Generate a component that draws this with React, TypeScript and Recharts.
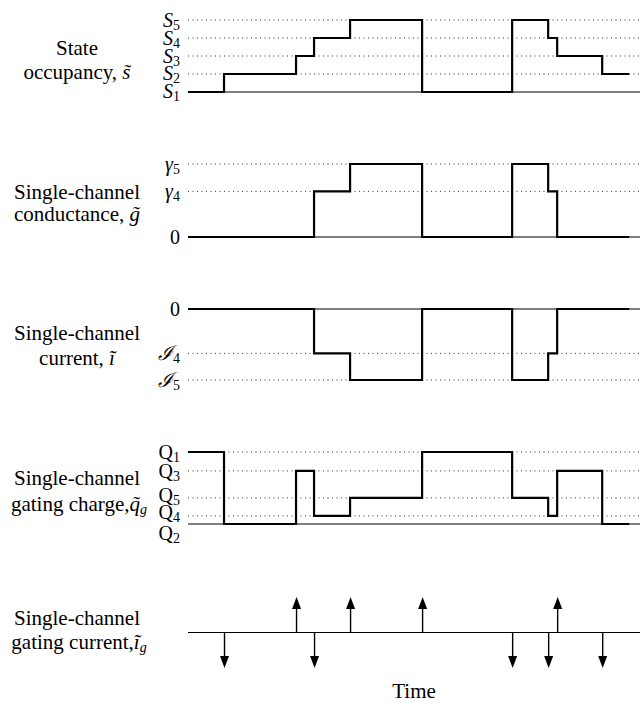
import React from 'react'
import { ComposedChart, Line, Bar, XAxis, YAxis, ReferenceLine } from 'recharts'

// transition times (arbitrary units); the last entry is the end of the record
const times = [0, 4, 12, 14, 18, 26, 36, 40, 41, 46, 49]
const occupancy = [1, 2, 3, 4, 5, 1, 5, 4, 3, 2, 2]
const conductance = [0, 0, 0, 2.5, 4, 0, 4, 2.5, 0, 0, 0]
const current = [0, 0, 0, -2.5, -4, 0, -4, -2.5, 0, 0, 0]
const gatingCharge = [4, 0, 2.95, 0.45, 1.45, 4, 1.45, 0.45, 2.95, 0, 0]

// gating current spikes: one per charge-moving transition
const gatingTimes = [4, 12, 14, 18, 26, 36, 40, 41, 46]
const gatingCurrent = [-1, 1, -1, 1, 1, -1, -1, 1, -1]

const timeDomain = [0, 50.2]

const stateTicks = [1, 2, 3, 4, 5]
const stateLabels = [['S', '1'], ['S', '2'], ['S', '3'], ['S', '4'], ['S', '5']]
const condTicks = [0, 2.5, 4]
const condLabels = [['0', ''], ['γ', '4'], ['γ', '5']]
const currTicks = [-4, -2.5, 0]
const currLabels = [['ℐ', '5'], ['ℐ', '4'], ['0', '']]
const chargeTicks = [0, 0.45, 1.45, 2.95, 4]
const chargeLabels = [['Q', '2'], ['Q', '4'], ['Q', '5'], ['Q', '3'], ['Q', '1']]

const FONT = "'Liberation Serif', 'DejaVu Serif', serif"

const toSeries = (vals: number[]) => times.map((t, i) => ({ t, v: vals[i] }))
const spikes = gatingTimes.map((t, i) => ({ t, g: gatingCurrent[i] }))

function MathTick(props: any) {
  const { x, y, payload, ticks, labels, italic, shift } = props
  const i = ticks.indexOf(payload.value)
  if (i < 0) return null
  const [main, sub] = labels[i]
  const isZero = main === '0'
  return (
    <text
      x={x}
      y={y + (shift ? shift[i] : 0)}
      textAnchor="end"
      dominantBaseline="central"
      fill="#000"
      style={{ fontFamily: FONT, fontSize: 20 }}
    >
      <tspan fontStyle={italic && !isZero ? 'italic' : 'normal'}>{main}</tspan>
      {sub && <tspan style={{ fontSize: 14 }} dy={5}>{sub}</tspan>}
    </text>
  )
}

function Arrow(props: any) {
  const { x, y, width, height, payload } = props
  const cx = x + width / 2
  const y1 = Math.min(y, y + height)
  const y2 = Math.max(y, y + height)
  const up = payload.g > 0
  const tip = up ? y1 : y2
  const base = up ? y2 : y1
  const head = 12
  const neck = up ? tip + head : tip - head
  return (
    <g>
      <line x1={cx} x2={cx} y1={base} y2={neck} stroke="#000" strokeWidth={1.4} />
      <polygon points={`${cx},${tip} ${cx - 4.5},${neck} ${cx + 4.5},${neck}`} fill="#000" />
    </g>
  )
}

interface StepPanelProps {
  top: number
  height: number
  margin: { top: number; bottom: number }
  values: number[]
  domain: number[]
  ticks: number[]
  labels: string[][]
  base: number
  italic?: boolean
  shift?: number[]
}

function StepPanel({ top, height, margin, values, domain, ticks, labels, base, italic, shift }: StepPanelProps) {
  return (
    <div style={{ position: 'absolute', left: 0, top }}>
      <ComposedChart
        width={640}
        height={height}
        data={toSeries(values)}
        margin={{ top: margin.top, bottom: margin.bottom, left: 158, right: 0 }}
      >
        <XAxis dataKey="t" type="number" domain={timeDomain} hide />
        <YAxis
          type="number"
          domain={domain}
          ticks={ticks}
          interval={0}
          width={30}
          axisLine={false}
          tickLine={false}
          tick={(p: any) => <MathTick {...p} ticks={ticks} labels={labels} italic={italic} shift={shift} />}
        />
        {ticks.filter((v) => v !== base).map((v) => (
          <ReferenceLine key={v} y={v} stroke="#333" strokeWidth={1} strokeDasharray="1 3.5" />
        ))}
        <ReferenceLine y={base} stroke="#000" strokeWidth={1.1} />
        <Line
          type="stepAfter"
          dataKey="v"
          stroke="#000"
          strokeWidth={2.2}
          dot={false}
          isAnimationActive={false}
        />
      </ComposedChart>
    </div>
  )
}

const labelStyle: React.CSSProperties = { fontFamily: FONT, fontSize: 21, fill: '#000' }
const subStyle: React.CSSProperties = { fontFamily: FONT, fontSize: 14, fontStyle: 'italic' }

export default function App() {
  return (
    <div
      style={{
        position: 'absolute',
        left: 0,
        top: 0,
        width: 640,
        height: 704,
        background: '#fff',
        fontFamily: FONT,
      }}
    >
      <svg width={640} height={704} style={{ position: 'absolute', left: 0, top: 0 }}>
        <g textAnchor="middle" dominantBaseline="central">
          <text x={77} y={48} style={labelStyle}>State</text>
          <text x={77} y={72} style={labelStyle}>occupancy, <tspan fontStyle="italic">s̃</tspan></text>
          <text x={77} y={192} style={labelStyle}>Single-channel</text>
          <text x={77} y={214} style={labelStyle}>conductance, <tspan fontStyle="italic">g̃</tspan></text>
          <text x={77} y={333} style={labelStyle}>Single-channel</text>
          <text x={77} y={358} style={labelStyle}>current, <tspan fontStyle="italic">ĩ</tspan></text>
          <text x={77} y={478} style={labelStyle}>Single-channel</text>
          <text x={79} y={504} style={labelStyle}>
            gating charge,<tspan fontStyle="italic">q̃</tspan>
            <tspan style={subStyle} dy={5}>g</tspan>
          </text>
          <text x={77} y={618} style={labelStyle}>Single-channel</text>
          <text x={79} y={642} style={labelStyle}>
            gating current,<tspan fontStyle="italic">ĩ</tspan>
            <tspan style={subStyle} dy={5}>g</tspan>
          </text>
        </g>
      </svg>

      <StepPanel
        top={0}
        height={120}
        margin={{ top: 20, bottom: 28 }}
        values={occupancy}
        domain={[1, 5]}
        ticks={stateTicks}
        labels={stateLabels}
        base={1}
        italic
        shift={[-1, -1, 0, 0, 0]}
      />
      <StepPanel
        top={130}
        height={130}
        margin={{ top: 34, bottom: 23 }}
        values={conductance}
        domain={[0, 4]}
        ticks={condTicks}
        labels={condLabels}
        base={0}
        italic
      />
      <StepPanel
        top={280}
        height={130}
        margin={{ top: 29, bottom: 30 }}
        values={current}
        domain={[-4, 0]}
        ticks={currTicks}
        labels={currLabels}
        base={0}
        italic
      />
      <StepPanel
        top={420}
        height={140}
        margin={{ top: 32, bottom: 36 }}
        values={gatingCharge}
        domain={[0, 4]}
        ticks={chargeTicks}
        labels={chargeLabels}
        base={0}
        shift={[9, -4, -3, 0, 0]}
      />

      <div style={{ position: 'absolute', left: 0, top: 570 }}>
        <ComposedChart
          width={640}
          height={134}
          data={spikes}
          margin={{ top: 27, bottom: 0, left: 158, right: 0 }}
        >
          <XAxis
            dataKey="t"
            type="number"
            domain={timeDomain}
            height={36}
            tick={false}
            axisLine={false}
            tickLine={false}
            label={{ value: 'Time', position: 'insideBottom', offset: 6, fontSize: 21, fill: '#000', style: { fontFamily: FONT } }}
          />
          <YAxis type="number" domain={[-1, 1]} width={30} tick={false} axisLine={false} tickLine={false} />
          <ReferenceLine y={0} stroke="#000" strokeWidth={1.1} />
          <Bar dataKey="g" barSize={2} shape={<Arrow />} isAnimationActive={false} />
        </ComposedChart>
      </div>
    </div>
  )
}
